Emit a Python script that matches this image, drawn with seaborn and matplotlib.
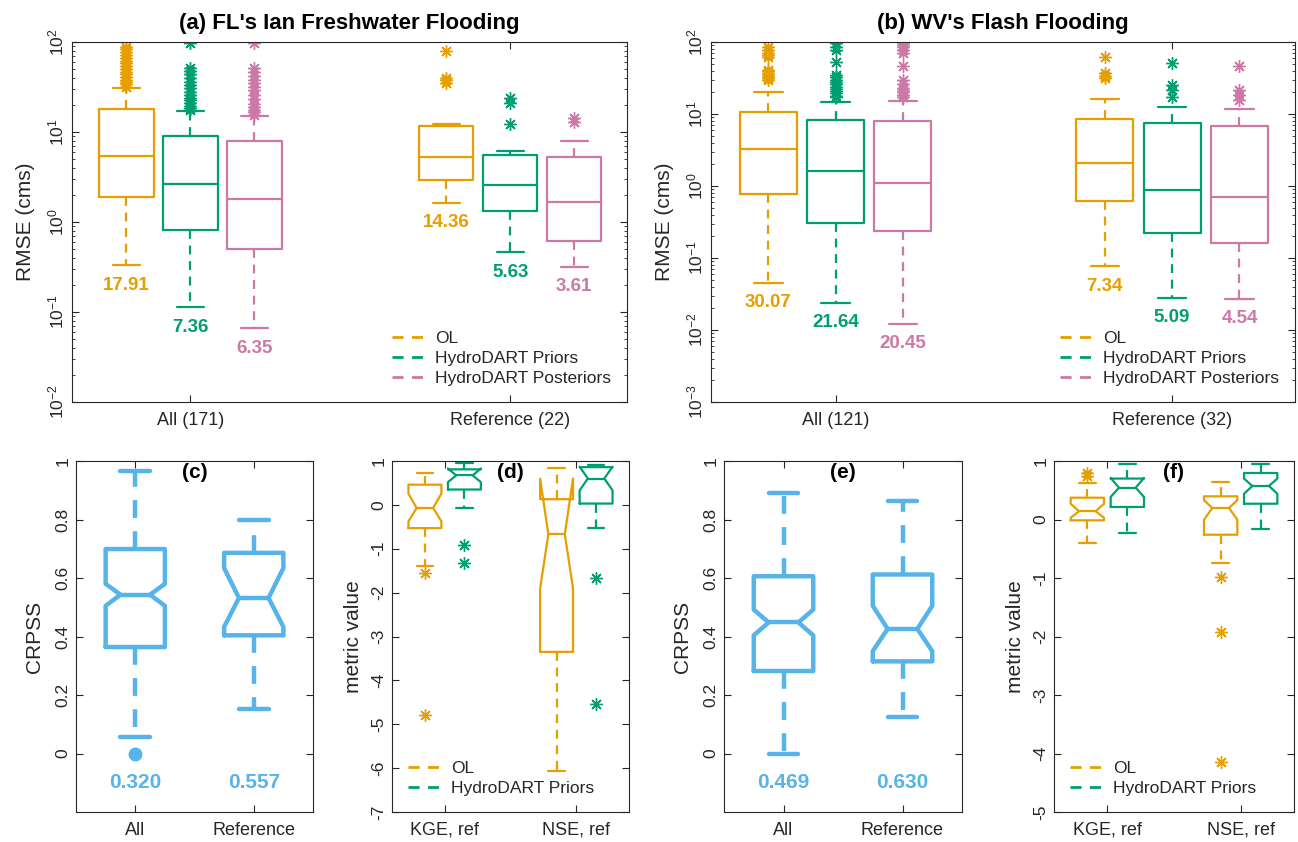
import numpy as np
import matplotlib
matplotlib.use('Agg')
import matplotlib.pyplot as plt
from matplotlib.lines import Line2D
from matplotlib.ticker import FixedLocator, FormatStrFormatter, LogLocator, NullFormatter
import seaborn as sns

# ---- values ----
runs = ['OL', 'HydroDART Priors', 'HydroDART Posteriors']
run_colors = ['#E69F00', '#009E73', '#CC79A7']
crpss_color = '#56B4E9'

# (a) FL RMSE; box order: All OL, All Priors, All Posteriors, Ref OL, Ref Priors, Ref Posteriors
fl_groups = ['All (171)', 'Reference (22)']
fl_q1 = [1.88, 0.82, 0.50, 2.9, 1.34, 0.61]
fl_med = [5.37, 2.64, 1.82, 5.27, 2.6, 1.68]
fl_q3 = [18.1, 9.1, 8.0, 11.7, 5.6, 5.24]
fl_lo = [0.33, 0.113, 0.066, 1.64, 0.46, 0.32]
fl_hi = [30.8, 17.0, 15.2, 12.4, 6.1, 8.0]
fl_fliers = [
    [32, 34, 36, 38, 41, 44, 47, 50, 54, 58, 62, 67, 72, 78, 84, 88],
    [17.6, 18.5, 19.5, 21, 22.5, 24, 26, 28, 30.5, 33, 36, 40, 44, 48, 51, 97],
    [15.5, 16.5, 17.5, 19, 20.5, 23, 26, 29, 32, 35, 38, 42, 46, 51, 97],
    [35, 38, 40, 79],
    [12.4, 21, 23.9],
    [12.8, 14.3],
]
fl_labels = ['17.91', '7.36', '6.35', '14.36', '5.63', '3.61']

# (b) WV RMSE, same order
wv_groups = ['All (121)', 'Reference (32)']
wv_q1 = [0.78, 0.31, 0.234, 0.62, 0.222, 0.16]
wv_med = [3.27, 1.63, 1.09, 2.08, 0.89, 0.70]
wv_q3 = [10.7, 8.2, 7.9, 8.6, 7.5, 6.9]
wv_lo = [0.045, 0.024, 0.0122, 0.0766, 0.028, 0.027]
wv_hi = [20.2, 14.5, 15.0, 16.3, 12.6, 11.7]
wv_fliers = [
    [30, 31.6, 33, 35, 37, 39, 41, 62, 66, 70, 77, 85],
    [17, 18, 19.5, 21, 22.5, 24, 26, 28, 30, 32.5, 35, 53, 77, 85, 97],
    [17, 18.5, 20, 21.5, 23, 26, 30, 46, 70, 77, 85, 92, 97],
    [31.6, 34, 37, 62],
    [17, 21.6, 25, 51],
    [15.6, 18.4, 21.5, 46],
]
wv_labels = ['30.07', '21.64', '20.45', '7.34', '5.09', '4.54']

# (c) / (e) CRPSS
crpss_groups = ['All', 'Reference']
fl_crpss_q1 = [0.364, 0.404]
fl_crpss_med = [0.543, 0.532]
fl_crpss_q3 = [0.699, 0.686]
fl_crpss_cilo = [0.505, 0.433]
fl_crpss_cihi = [0.58, 0.634]
fl_crpss_lo = [0.057, 0.151]
fl_crpss_hi = [0.965, 0.80]
fl_crpss_fliers = [[0.0], []]
fl_crpss_labels = ['0.320', '0.557']

wv_crpss_q1 = [0.282, 0.315]
wv_crpss_med = [0.448, 0.426]
wv_crpss_q3 = [0.606, 0.612]
wv_crpss_cilo = [0.404, 0.35]
wv_crpss_cihi = [0.492, 0.505]
wv_crpss_lo = [0.0, 0.124]
wv_crpss_hi = [0.891, 0.863]
wv_crpss_fliers = [[], []]
wv_crpss_labels = ['0.469', '0.630']

# (d) / (f) KGE and NSE; order: KGE OL, KGE Priors, NSE OL, NSE Priors
metric_groups = ['KGE, ref', 'NSE, ref']
fl_m_q1 = [-0.53, 0.35, -3.35, 0.03]
fl_m_med = [-0.07, 0.67, -0.67, 0.60]
fl_m_q3 = [0.46, 0.81, 0.13, 0.86]
fl_m_cilo = [-0.375, 0.52, -1.91, 0.33]
fl_m_cihi = [0.255, 0.83, 0.60, 0.87]
fl_m_lo = [-1.39, -0.07, -6.07, -0.53]
fl_m_hi = [0.726, 0.955, 0.85, 0.92]
fl_m_fliers = [[-1.545, -4.8], [-0.91, -1.33], [], [-1.66, -4.53]]

wv_m_q1 = [-0.014, 0.214, -0.26, 0.27]
wv_m_med = [0.14, 0.544, 0.197, 0.573]
wv_m_q3 = [0.373, 0.70, 0.396, 0.795]
wv_m_cilo = [0.03, 0.385, -0.003, 0.44]
wv_m_cihi = [0.27, 0.71, 0.33, 0.70]
wv_m_lo = [-0.40, -0.225, -0.744, -0.157]
wv_m_hi = [0.624, 0.943, 0.635, 0.943]
wv_m_fliers = [[0.75, 0.795], [], [-0.98, -1.93, -4.15], []]

# ---- style ----
sns.set_theme(style='ticks')
plt.rcParams['font.family'] = ['Liberation Sans', 'DejaVu Sans']
plt.rcParams['axes.unicode_minus'] = False
plt.rcParams['mathtext.fontset'] = 'custom'
plt.rcParams['mathtext.rm'] = 'Liberation Sans'
INK = '#262626'
ASTERISK = (8, 2, 0)


def draw_box(ax, pos, width, q1, med, q3, lo, hi, fliers, color, lw,
             cilo=None, cihi=None, marker=ASTERISK, msize=9):
    st = dict(q1=q1, med=med, q3=q3, whislo=lo, whishi=hi,
              fliers=np.asarray(fliers, dtype=float))
    notch = cilo is not None
    if notch:
        st['cilo'] = cilo
        st['cihi'] = cihi
    if marker == 'o':
        fp = dict(marker='o', markerfacecolor=color, markeredgecolor=color,
                  markersize=msize, linestyle='none')
    else:
        fp = dict(marker=marker, markerfacecolor='none', markeredgecolor=color,
                  markersize=msize, markeredgewidth=1.0, linestyle='none')
    ax.bxp([st], positions=[pos], widths=[width], shownotches=notch,
           manage_ticks=False,
           boxprops=dict(color=color, lw=lw),
           medianprops=dict(color=color, lw=lw),
           whiskerprops=dict(color=color, lw=lw, linestyle=(0, (4, 3))),
           capprops=dict(color=color, lw=lw),
           flierprops=fp)


def style_axes(ax):
    for s in ax.spines.values():
        s.set_color(INK)
        s.set_linewidth(0.8)
    ax.tick_params(which='both', direction='in', top=True, right=True,
                   colors=INK, labelcolor=INK)
    ax.tick_params(which='major', length=5, width=0.8)
    ax.tick_params(which='minor', length=2.5, width=0.6)
    ax.tick_params(axis='y', labelrotation=90, labelsize=12.5, pad=4)
    ax.tick_params(axis='x', labelsize=13, pad=7)
    ax.xaxis.set_minor_locator(FixedLocator([]))


def finish_ylabels(ax):
    for lab in ax.get_yticklabels():
        lab.set_va('center')


fig = plt.figure(figsize=(12.98, 8.42), dpi=100)
W, H = 1298.0, 842.0


def px_axes(x0, y0, x1, y1):
    return fig.add_axes([x0 / W, 1 - y1 / H, (x1 - x0) / W, (y1 - y0) / H])


ax_a = px_axes(72, 42, 627, 402)
ax_b = px_axes(711, 42, 1295, 402)
ax_c = px_axes(76, 461, 313, 812)
ax_d = px_axes(392, 461, 629, 812)
ax_e = px_axes(724, 461, 962, 812)
ax_f = px_axes(1054, 461, 1294, 812)

offsets = [-0.2, 0.0, 0.2]

# ---- (a) and (b) RMSE panels ----
for ax, groups, q1, med, q3, lo, hi, fl, labs, ylo, title in [
    (ax_a, fl_groups, fl_q1, fl_med, fl_q3, fl_lo, fl_hi, fl_fliers, fl_labels, 1e-2,
     "(a) FL's Ian Freshwater Flooding"),
    (ax_b, wv_groups, wv_q1, wv_med, wv_q3, wv_lo, wv_hi, wv_fliers, wv_labels, 1e-3,
     "(b) WV's Flash Flooding"),
]:
    ax.set_yscale('log')
    k = 0
    for g in range(len(groups)):
        for r in range(len(runs)):
            pos = g + 1 + offsets[r]
            draw_box(ax, pos, 0.17, q1[k], med[k], q3[k], lo[k], hi[k], fl[k],
                     run_colors[r], 1.6)
            ax.annotate(labs[k], xy=(pos, lo[k]), xytext=(0, -20),
                        textcoords='offset pixels', ha='center', va='center',
                        fontsize=13.5, fontweight='bold', color=run_colors[r])
            k += 1
    ax.set_xlim(0.63, 2.365)
    ax.set_ylim(ylo, 1e2)
    ax.set_xticks([1, 2])
    ax.set_xticklabels(groups)
    ax.yaxis.set_major_locator(LogLocator(base=10, numticks=10))
    ax.yaxis.set_minor_locator(LogLocator(base=10, subs=np.arange(2, 10), numticks=20))
    ax.yaxis.set_minor_formatter(NullFormatter())
    ax.set_ylabel('RMSE (cms)', fontsize=15, color=INK, labelpad=8)
    ax.set_title(title, fontsize=16, fontweight='bold', color='black', pad=9)
    style_axes(ax)
    handles = [Line2D([], [], color=c, lw=2, linestyle=(0, (4, 3))) for c in run_colors]
    ax.legend(handles, runs, loc='lower right', frameon=False, fontsize=12.5,
              handlelength=1.8, handletextpad=0.7, labelspacing=0.3,
              borderaxespad=0.5)

# ---- (c) and (e) CRPSS panels ----
for ax, q1, med, q3, cilo, cihi, lo, hi, fl, labs, tag in [
    (ax_c, fl_crpss_q1, fl_crpss_med, fl_crpss_q3, fl_crpss_cilo, fl_crpss_cihi,
     fl_crpss_lo, fl_crpss_hi, fl_crpss_fliers, fl_crpss_labels, '(c)'),
    (ax_e, wv_crpss_q1, wv_crpss_med, wv_crpss_q3, wv_crpss_cilo, wv_crpss_cihi,
     wv_crpss_lo, wv_crpss_hi, wv_crpss_fliers, wv_crpss_labels, '(e)'),
]:
    for i in range(len(crpss_groups)):
        draw_box(ax, i + 1, 0.5, q1[i], med[i], q3[i], lo[i], hi[i], fl[i],
                 crpss_color, 3.2, cilo=cilo[i], cihi=cihi[i], marker='o', msize=9)
        ax.text(i + 1, -0.1, labs[i], ha='center', va='center', fontsize=15,
                fontweight='bold', color=crpss_color)
    ax.set_xlim(0.5, 2.5)
    ax.set_ylim(-0.2, 1.0)
    ax.set_xticks([1, 2])
    ax.set_xticklabels(crpss_groups)
    ax.yaxis.set_major_locator(FixedLocator([0, 0.2, 0.4, 0.6, 0.8, 1.0]))
    ax.yaxis.set_major_formatter(FormatStrFormatter('%g'))
    ax.set_ylabel('CRPSS', fontsize=15, color=INK, labelpad=8)
    ax.text(0.5, 0.966, tag, transform=ax.transAxes, ha='center', va='center',
            fontsize=15, fontweight='bold', color='black')
    style_axes(ax)

# ---- (d) and (f) KGE / NSE panels ----
for ax, q1, med, q3, cilo, cihi, lo, hi, fl, ylo, tag in [
    (ax_d, fl_m_q1, fl_m_med, fl_m_q3, fl_m_cilo, fl_m_cihi, fl_m_lo, fl_m_hi,
     fl_m_fliers, -7, '(d)'),
    (ax_f, wv_m_q1, wv_m_med, wv_m_q3, wv_m_cilo, wv_m_cihi, wv_m_lo, wv_m_hi,
     wv_m_fliers, -5, '(f)'),
]:
    k = 0
    for g in range(len(metric_groups)):
        for r, off in enumerate([-0.15, 0.15]):
            draw_box(ax, g + 1 + off, 0.25, q1[k], med[k], q3[k], lo[k], hi[k], fl[k],
                     run_colors[r], 1.6, cilo=cilo[k], cihi=cihi[k])
            k += 1
    ax.set_xlim(0.6, 2.4)
    ax.set_ylim(ylo, 1)
    ax.set_xticks([1, 2])
    ax.set_xticklabels(metric_groups)
    ax.yaxis.set_major_locator(FixedLocator(np.arange(ylo, 2)))
    ax.yaxis.set_major_formatter(FormatStrFormatter('%d'))
    ax.set_ylabel('metric value', fontsize=15, color=INK, labelpad=6)
    ax.text(0.5, 0.966, tag, transform=ax.transAxes, ha='center', va='center',
            fontsize=15, fontweight='bold', color='black')
    style_axes(ax)
    handles = [Line2D([], [], color=c, lw=2, linestyle=(0, (4, 3))) for c in run_colors[:2]]
    ax.legend(handles, runs[:2], loc='lower left', frameon=False, fontsize=12.5,
              handlelength=1.8, handletextpad=0.7, labelspacing=0.3,
              borderaxespad=0.5)

for ax in [ax_a, ax_b, ax_c, ax_d, ax_e, ax_f]:
    finish_ylabels(ax)

fig.savefig('out.png', dpi=100)
